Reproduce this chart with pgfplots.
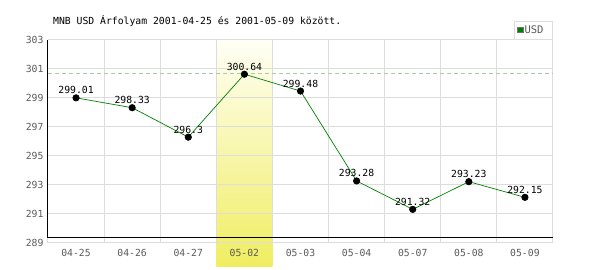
\documentclass[border=0pt]{standalone}
\usepackage{pgfplots}
\pgfplotsset{compat=1.18}
\usepackage{fontspec}
\setmainfont{DejaVu Sans Mono}
\definecolor{gridc}{RGB}{221,221,221}
\definecolor{linec}{RGB}{0,128,0}
\definecolor{labc}{RGB}{90,90,90}
\definecolor{hlb}{RGB}{240,237,96}
\definecolor{hlt}{RGB}{255,255,246}
\definecolor{dashc}{RGB}{170,200,170}
\pgfplotsset{base/.style={
  at={(48bp,27bp)}, anchor=south west,
  width=505bp, height=203bp, scale only axis,
  xmin=-0.5, xmax=8.5, ymin=289, ymax=303,
  clip=false}}
\begin{document}
\begin{tikzpicture}
\useasboundingbox (0,0) rectangle (600bp,270bp);
\begin{axis}[base, hide axis]
\addplot[draw=none, shading=axis, top color=hlt, bottom color=hlb]
  coordinates {(2.5,287.35) (3.5,287.35) (3.5,303) (2.5,303)} -- cycle;
\end{axis}
\begin{axis}[
  base,
  axis line style={draw=none},
  xtick={0,...,8},
  xticklabels={04-25,04-26,04-27,05-02,05-03,05-04,05-07,05-08,05-09},
  minor xtick={-0.5,0.5,...,8.5},
  xminorgrids, ymajorgrids,
  ytick={289,291,...,303},
  major tick length=0pt, minor tick length=0pt,
  grid style={gridc, line width=1bp},
  minor grid style={gridc, line width=1bp},
  /pgf/number format/assume math mode=true,
  ticklabel style={font=\fontsize{9.8}{11}\selectfont, text=labc},
  xticklabel style={yshift=-3bp},
  yticklabel style={xshift=-1bp},
  legend style={at={(1,1)}, anchor=south east, draw=gridc, fill=white,
    font=\fontsize{10.5}{11}\selectfont, text=labc, inner xsep=3bp, inner ysep=3.5bp,
    line width=1bp, legend cell align=left, nodes={inner sep=1bp}},
  legend image code/.code={\filldraw[fill=linec, draw=gray!90!black, line width=0.8bp] (1.5bp,-2.5bp) rectangle (7bp,3bp);},
]
\addplot[forget plot, dashc, dash pattern=on 4bp off 3bp, line width=0.8bp] coordinates {(-0.5,300.72) (8.5,300.72)};
\addplot[forget plot, black, line width=1bp] coordinates {(-0.5,303) (-0.5,289.35) (8.5,289.35)};
\addplot[linec, line width=0.7bp, mark=*, mark size=3.2bp,
  mark options={draw=black, fill=black},
  nodes near coords, point meta=explicit symbolic,
  every node near coord/.append style={font=\fontsize{9.8}{11}\selectfont, text=black, inner sep=3.5bp}]
coordinates {
(0,299.01) [299.01]
(1,298.33) [298.33]
(2,296.3) [296.3]
(3,300.64) [300.64]
(4,299.48) [299.48]
(5,293.28) [293.28]
(6,291.32) [291.32]
(7,293.23) [293.23]
(8,292.15) [292.15]
};
\addlegendentry{USD\rule{5bp}{0pt}}
\end{axis}
\node[anchor=west, font=\fontsize{9.8}{11}\selectfont, inner sep=0pt] at (53bp,249bp) {MNB USD Árfolyam 2001-04-25 és 2001-05-09 között.};
\end{tikzpicture}
\end{document}
